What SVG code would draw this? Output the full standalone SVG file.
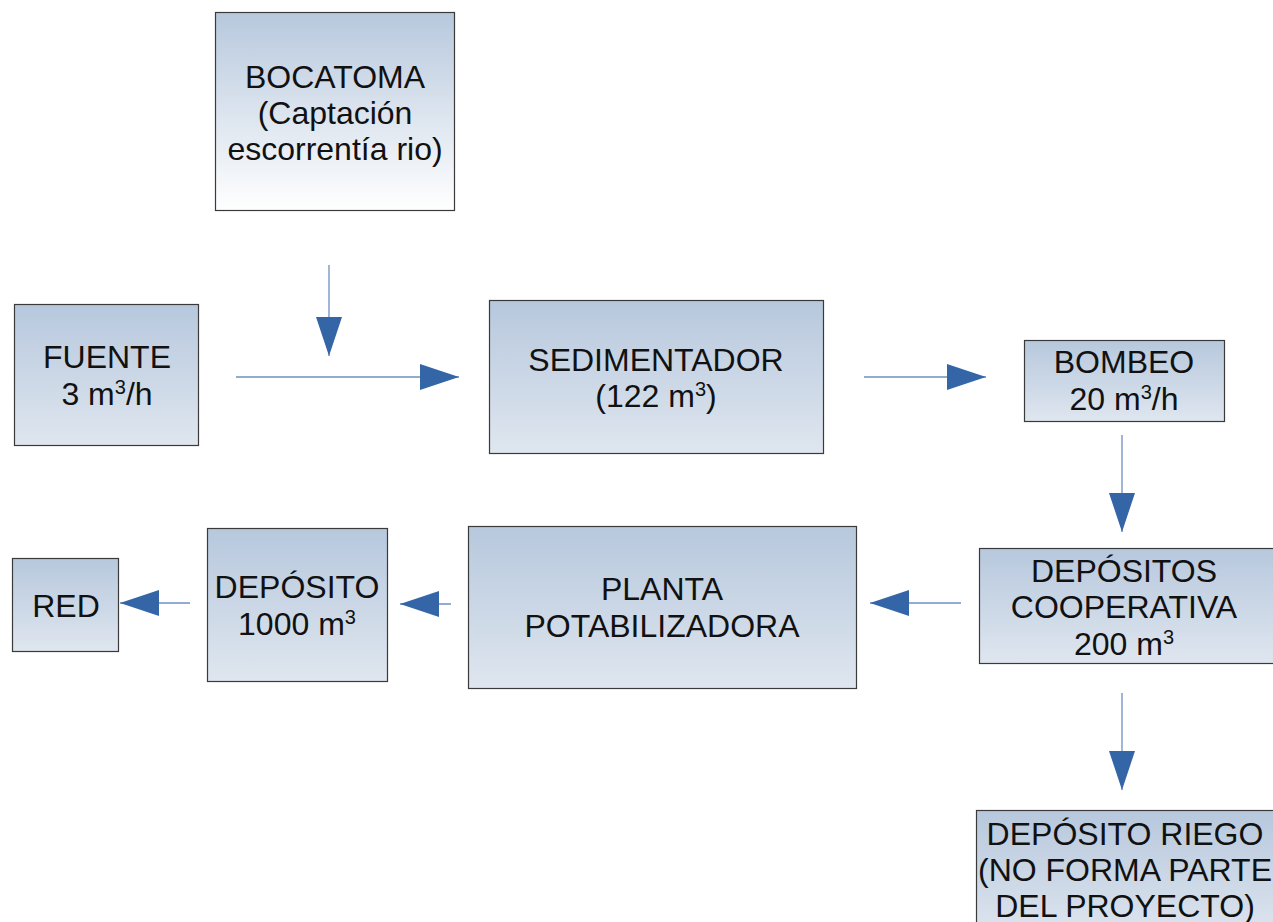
<svg xmlns="http://www.w3.org/2000/svg" width="1273" height="922" viewBox="0 0 1273 922">
<defs>
<linearGradient id="g" x1="0" y1="0" x2="0" y2="1"><stop offset="0" stop-color="#b7c8dd"/><stop offset="1" stop-color="#dfe6ef"/></linearGradient>
<linearGradient id="gw" x1="0" y1="0" x2="0" y2="1"><stop offset="0" stop-color="#b7c8dd"/><stop offset="1" stop-color="#ffffff"/></linearGradient>
<marker id="ah" markerUnits="userSpaceOnUse" markerWidth="40" markerHeight="28" refX="39" refY="13" orient="auto"><path d="M0,0 L39,13 L0,26 Z" fill="#3465a6"/></marker>
</defs>
<style>
.b{fill:url(#g);stroke:#3a3a3a;stroke-width:1.2}
.t{font-family:"Liberation Sans",Arial,sans-serif;font-size:32px;fill:#111;text-anchor:middle}
.s{font-size:20px}
.c{stroke:#6e8fc0;stroke-width:1.3;fill:none;marker-end:url(#ah)}
</style>
<rect width="1273" height="922" fill="#fff"/>
<g id="bocatoma"><rect x="215.5" y="12.5" width="239" height="198" style="fill:url(#gw);stroke:#3a3a3a;stroke-width:1.2"/>
<text class="t" x="335" y="88">BOCATOMA</text><text class="t" x="335" y="124">(Captación</text><text class="t" x="335" y="160">escorrentía rio)</text></g>
<g id="fuente"><rect class="b" x="14.5" y="304.5" width="184" height="141"/>
<text class="t" x="107" y="368">FUENTE</text><text class="t" x="107" y="405">3 m<tspan class="s" dy="-11">3</tspan><tspan dy="11">/h</tspan></text></g>
<g id="sedimentador"><rect class="b" x="489.5" y="300.5" width="334" height="153"/>
<text class="t" x="656" y="371">SEDIMENTADOR</text><text class="t" x="656" y="407">(122 m<tspan class="s" dy="-11">3</tspan><tspan dy="11">)</tspan></text></g>
<g id="bombeo"><rect class="b" x="1024.5" y="340.5" width="200" height="81"/>
<text class="t" x="1124" y="373">BOMBEO</text><text class="t" x="1124" y="410">20 m<tspan class="s" dy="-11">3</tspan><tspan dy="11">/h</tspan></text></g>
<g id="depositos-cooperativa"><rect class="b" x="979.5" y="548.5" width="300" height="115"/>
<text class="t" x="1124" y="582">DEPÓSITOS</text><text class="t" x="1124" y="618">COOPERATIVA</text><text class="t" x="1124" y="655">200 m<tspan class="s" dy="-11">3</tspan></text></g>
<g id="planta"><rect class="b" x="468.5" y="526.5" width="388" height="162"/>
<text class="t" x="662" y="600">PLANTA</text><text class="t" x="662" y="637">POTABILIZADORA</text></g>
<g id="deposito"><rect class="b" x="207.5" y="528.5" width="180" height="153"/>
<text class="t" x="297" y="598">DEPÓSITO</text><text class="t" x="297" y="635">1000 m<tspan class="s" dy="-11">3</tspan></text></g>
<g id="red"><rect class="b" x="12.5" y="558.5" width="106" height="93"/>
<text class="t" x="66" y="617">RED</text></g>
<g id="deposito-riego"><rect class="b" x="976.5" y="810.5" width="310" height="130"/>
<text class="t" x="1125" y="845">DEPÓSITO RIEGO</text><text class="t" x="1125" y="881">(NO FORMA PARTE</text><text class="t" x="1125" y="917">DEL PROYECTO)</text></g>
<g id="connectors">
<path class="c" d="M329,265 V356"/>
<path class="c" d="M236,377 H459"/>
<path class="c" d="M864,377 H986"/>
<path class="c" d="M1122,435 V532"/>
<path class="c" d="M961,603 H870"/>
<path class="c" d="M451,604 H400"/>
<path class="c" d="M190,603 H120"/>
<path class="c" d="M1122,693 V790"/>
</g>
</svg>
